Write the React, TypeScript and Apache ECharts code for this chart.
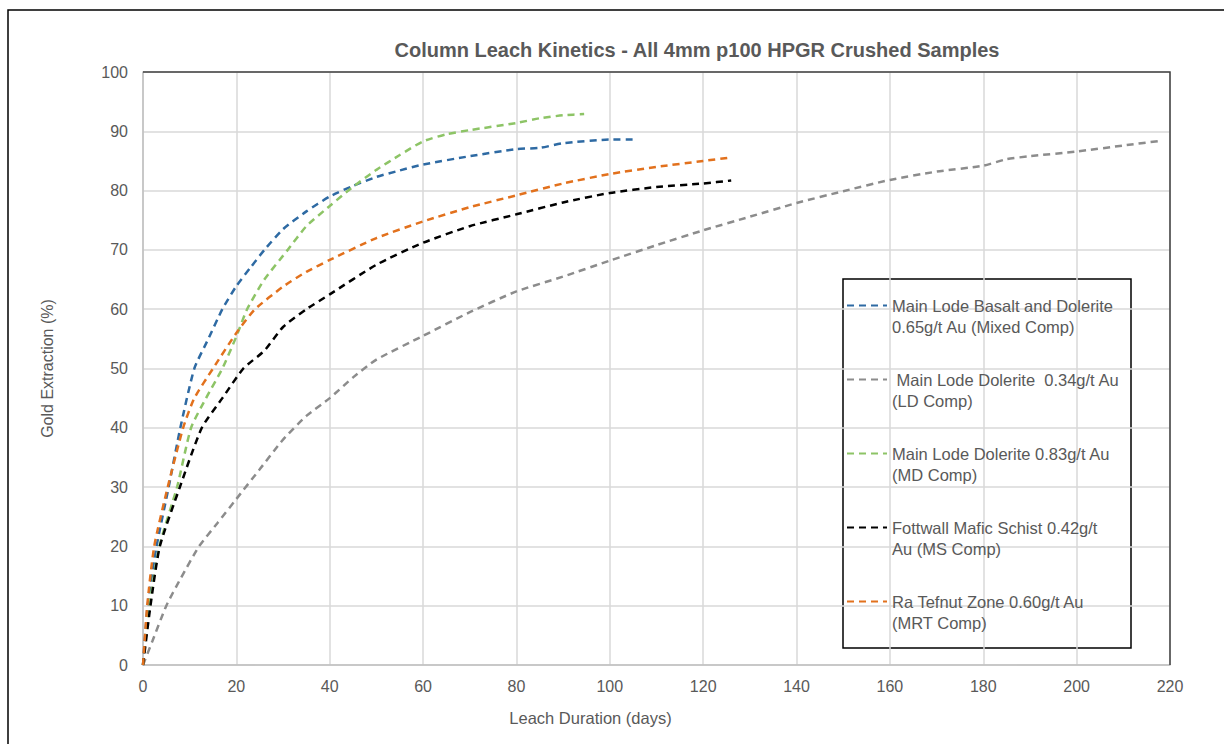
import React, { useEffect, useRef } from "react";
import * as echarts from "echarts";

const seriesNames = [
  "Main Lode Basalt and Dolerite\n0.65g/t Au (Mixed Comp)",
  " Main Lode Dolerite  0.34g/t Au\n(LD Comp)",
  "Main Lode Dolerite 0.83g/t Au\n(MD Comp)",
  "Fottwall Mafic Schist 0.42g/t\nAu (MS Comp)",
  "Ra Tefnut Zone 0.60g/t Au\n(MRT Comp)",
];
const seriesColors = ["#2e6aa3", "#8c8c8c", "#8dc466", "#000000", "#e2711d"];

const basaltDays = [0, 1, 2.9, 5.5, 8, 11, 14, 17, 20, 23, 26, 30, 35, 40, 45, 50, 55, 60, 70, 80, 85, 90, 100, 105];
const basaltGold = [0, 10, 20, 30, 40, 50, 55, 60, 63.9, 67, 70, 73.5, 76.5, 79, 80.8, 82.3, 83.4, 84.4, 85.8, 87, 87.2, 88, 88.6, 88.6];

const ldDays = [0, 2, 5, 8, 12, 16, 20, 25, 30, 35, 40, 45, 50, 60, 70, 80, 90, 100, 110, 120, 130, 140, 150, 160, 170, 180, 185, 190, 200, 210, 218];
const ldGold = [0, 4, 10, 14.5, 20, 24, 28, 33, 38, 42, 45, 48.5, 51.5, 55.5, 59.5, 63, 65.5, 68.2, 70.8, 73.3, 75.6, 77.9, 79.9, 81.8, 83.2, 84.2, 85.3, 85.8, 86.6, 87.6, 88.4];

const mdDays = [0, 1, 3.5, 7.3, 10.3, 13.5, 17, 20, 22.3, 26, 31, 35, 40, 44.6, 50, 55, 60, 65, 70, 80, 85, 90, 94.5];
const mdGold = [0, 8, 20, 30, 40, 45, 50, 55.4, 60, 65, 70, 74, 77.4, 80.4, 83.5, 86, 88.3, 89.5, 90.2, 91.4, 92.2, 92.7, 92.9];

const msDays = [0, 1.6, 3.6, 7.9, 12.6, 17, 21.5, 26, 30, 35, 40, 50, 60, 70, 80, 90, 100, 110, 120, 126];
const msGold = [0, 10, 20, 30, 40, 45, 50, 53, 57, 60, 62.5, 67.5, 71.2, 74, 76, 78, 79.6, 80.6, 81.2, 81.7];

const mrtDays = [0, 0.9, 2.4, 5.3, 8.6, 11, 15, 20, 24, 30, 35, 40, 50, 60, 70, 80, 90, 100, 110, 120, 126];
const mrtGold = [0, 10, 20, 30, 40, 45, 50, 56, 60, 63.8, 66.3, 68.3, 72, 74.8, 77.2, 79.2, 81.2, 82.8, 84, 85, 85.6];

const xTicks = { min: 0, max: 220, interval: 20 };
const yTicks = { min: 0, max: 100, interval: 10 };

const zip = (xs: number[], ys: number[]) => xs.map((x, i) => [x, ys[i]]);

const allData = [
  zip(basaltDays, basaltGold),
  zip(ldDays, ldGold),
  zip(mdDays, mdGold),
  zip(msDays, msGold),
  zip(mrtDays, mrtGold),
];

const FONT = "'Liberation Sans', Arial, sans-serif";
const TXT = "#595959";

export default function App() {
  const ref = useRef<HTMLDivElement>(null);
  useEffect(() => {
    if (!ref.current) return;
    const chart = echarts.init(ref.current, undefined, { renderer: "svg" });
    const gL = 143, gT = 72, gW = 1027, gH = 593;
    chart.setOption({
      animation: false,
      backgroundColor: "#ffffff",
      title: {
        text: "Column Leach Kinetics - All 4mm p100 HPGR Crushed Samples",
        left: 692,
        top: 35,
        textAlign: "center",
        textStyle: { fontFamily: FONT, fontSize: 20, fontWeight: "bold", color: TXT },
      },
      grid: { left: gL, top: gT, width: gW, height: gH, containLabel: false },
      xAxis: {
        type: "value",
        ...xTicks,
        name: "Leach Duration (days)",
        nameLocation: "middle",
        nameGap: 44,
        nameTextStyle: { fontFamily: FONT, fontSize: 16.5, color: TXT, padding: [0, 132, 0, 0] },
        axisLine: { show: true, lineStyle: { color: "#bfbfbf", width: 1.5 } },
        axisTick: { show: false },
        axisLabel: { fontFamily: FONT, fontSize: 16, color: TXT, margin: 13 },
        splitLine: { show: true, lineStyle: { color: "#d9d9d9", width: 1.5 } },
      },
      yAxis: {
        type: "value",
        ...yTicks,
        name: "Gold Extraction (%)",
        nameLocation: "middle",
        nameGap: 88,
        nameTextStyle: { fontFamily: FONT, fontSize: 16, color: TXT },
        axisLine: { show: true, lineStyle: { color: "#bfbfbf", width: 1.5 } },
        axisTick: { show: false },
        axisLabel: { fontFamily: FONT, fontSize: 16, color: TXT, margin: 15 },
        splitLine: { show: true, lineStyle: { color: "#d9d9d9", width: 1.5 } },
      },
      legend: {
        orient: "vertical",
        left: 846,
        top: 274,
        padding: 0,
        itemGap: 11,
        itemWidth: 40,
        itemHeight: 14,
        data: seriesNames,
        itemStyle: { opacity: 0 },
        formatter: (name: string) => "\u00a0\n" + name,
        textStyle: {
          fontFamily: FONT,
          fontSize: 16.5,
          color: TXT,
          lineHeight: 21,
        },
      },
      graphic: [
        {
          type: "rect",
          shape: { x: 8, y: 10, width: 1240, height: 760 },
          style: { fill: "none", stroke: "#000", lineWidth: 1.5 },
          silent: true,
          z: 100,
        },
        {
          type: "polyline",
          shape: { points: [[gL, gT], [gL + gW, gT], [gL + gW, gT + gH]] },
          style: { fill: "none", stroke: "#404040", lineWidth: 1.5 },
          silent: true,
          z: 50,
        },
        {
          type: "rect",
          shape: { x: 843, y: 279, width: 288, height: 369 },
          style: { fill: "#ffffff", stroke: "#000", lineWidth: 1.5 },
          silent: true,
          z: 0,
          zlevel: 0,
        },
      ],
      series: allData.map((d, i) => ({
        name: seriesNames[i],
        type: "line",
        data: d,
        showSymbol: false,
        symbol: "none",
        smooth: 0.2,
        color: seriesColors[i],
        lineStyle: { color: seriesColors[i], width: 2.5, type: [7, 5] },
        z: 2 + i,
      })),
    });
    return () => chart.dispose();
  }, []);
  return (
    <div
      ref={ref}
      style={{ position: "fixed", left: 0, top: 0, width: 1224, height: 744 }}
    />
  );
}
